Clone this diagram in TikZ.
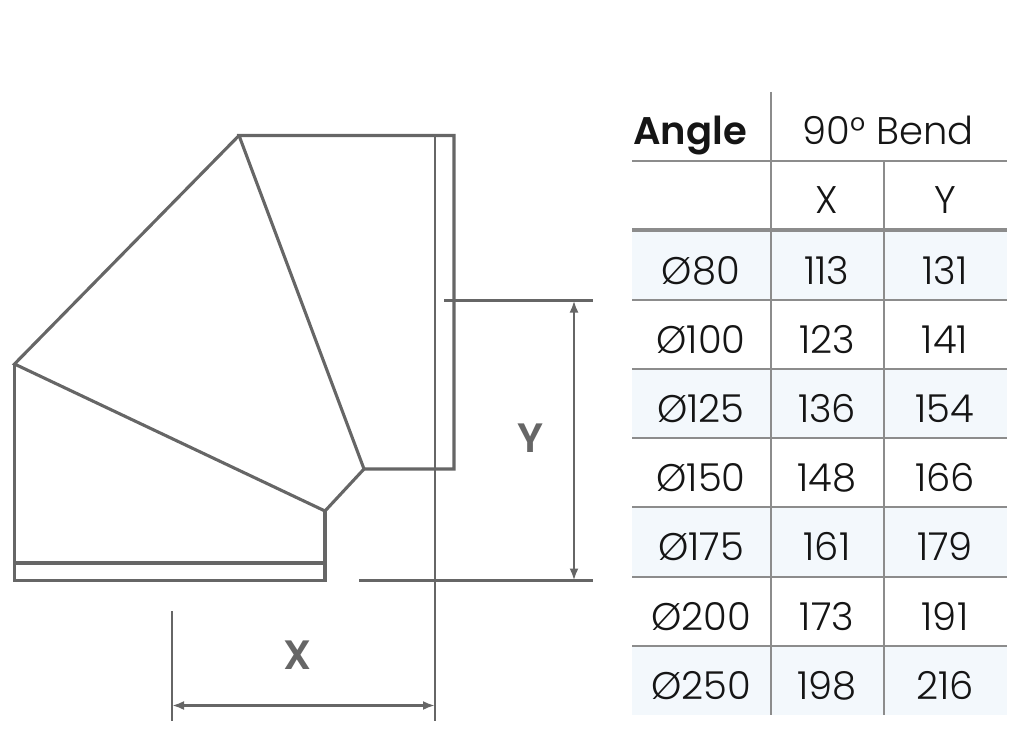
\documentclass[tikz,border=0pt]{standalone}
\usepackage{fontspec}
\setmainfont{Poppins}
\newfontfamily\lightfont{Poppins Light}
\newfontfamily\boldfont{Poppins SemiBold}
\usetikzlibrary{arrows.meta}
\definecolor{drawgray}{HTML}{666666}
\definecolor{tabgray}{HTML}{8C8C8C}
\definecolor{rowshade}{HTML}{F3F8FC}
\definecolor{txt}{HTML}{151515}
\tikzset{
  part/.style={draw=drawgray, line width=3.1pt, line join=miter},
  dimline/.style={draw=drawgray, line width=2.7pt},
  dimarrow/.style={draw=drawgray, line width=2.7pt, {Latex[length=12pt,width=9pt]}-{Latex[length=12pt,width=9pt]}},
  dimlabel/.style={text=drawgray, font=\boldfont\fontsize{41}{41}\selectfont, inner sep=0pt},
  tabline/.style={draw=tabgray, line width=2.2pt},
  cell/.style={text=txt, font=\lightfont\fontsize{38.5}{38.5}\selectfont, anchor=base, inner sep=0pt},
}
\begin{document}
\begin{tikzpicture}[x=1pt,y=-1pt]
\useasboundingbox (0,0) rectangle (1024,751);
% ---------- bend drawing ----------
\coordinate (A) at (239,135.5);
\coordinate (B) at (454,135.5);
\coordinate (Bb) at (454,469);
\coordinate (K1) at (364,469);
\coordinate (K2) at (325,511);
\coordinate (C) at (14.5,364);
\coordinate (Lb) at (14.5,580.5);
\coordinate (Rb) at (325,580.5);
% upper segment
\draw[part] (A) -- (B) -- (Bb) -- (K1) -- cycle;
% middle segment
\draw[part] (A) -- (C) -- (K2) -- (K1);
% lower segment
\draw[part] (C) -- (Lb) -- (Rb) -- (K2);
\draw[part] (14.5,563) -- (325,563);
% inner reference line
\coordinate (V1) at (435,135.5);
\coordinate (V2) at (435,721);
\draw[dimline] (V1) -- (V2);
% Y dimension
\coordinate (Y1a) at (444,300.5);
\coordinate (Y1b) at (593,300.5);
\coordinate (Y2a) at (359,580.5);
\coordinate (Y2b) at (593,580.5);
\draw[dimline] (Y1a) -- (Y1b);
\draw[dimline] (Y2a) -- (Y2b);
\coordinate (YA) at (574,300.5);
\coordinate (YB) at (574,580.5);
\draw[dimarrow] (YA) -- (YB);
\node[dimlabel] (ylab) at (531,438) {Y};
% X dimension
\coordinate (X1a) at (172,611);
\coordinate (X1b) at (172,721);
\draw[dimline] (X1a) -- (X1b);
\coordinate (XA) at (172,705.5);
\coordinate (XB) at (435,705.5);
\draw[dimarrow] (XA) -- (XB);
\node[dimlabel] (xlab) at (298,655) {X};
% ---------- table ----------
\foreach \t in {230,369,507,646}{
  \fill[rowshade] (632,\t) rectangle (1006.5,\t+69.3);
}
\foreach \t in {161,300,369,438,507,577,646}{
  \draw[tabline] (632,\t) -- (1006.5,\t);
}
\draw[draw=tabgray, line width=3.2pt] (632,230) -- (1006.5,230);
\draw[tabline] (771,92) -- (771,715);
\draw[tabline] (884,161) -- (884,715);
\node[cell, font=\boldfont\fontsize{38.5}{38.5}\selectfont] (angle) at (690,145) {Angle};
\node[cell] (bend) at (888,145) {90° Bend};
\node[cell] (hx) at (827,214) {X};
\node[cell] (hy) at (945,214) {Y};
\foreach \d/\x/\y [count=\i from 0] in {80/113/131,100/123/141,125/136/154,150/148/166,175/161/179,200/173/191,250/198/216}{
  \pgfmathsetmacro{\b}{284+69.2*\i}
  \node[cell] (d\i) at (701,\b) {Ø\d};
  \node[cell] (x\i) at (827,\b) {\x};
  \node[cell] (y\i) at (945,\b) {\y};
}
\end{tikzpicture}
\end{document}
